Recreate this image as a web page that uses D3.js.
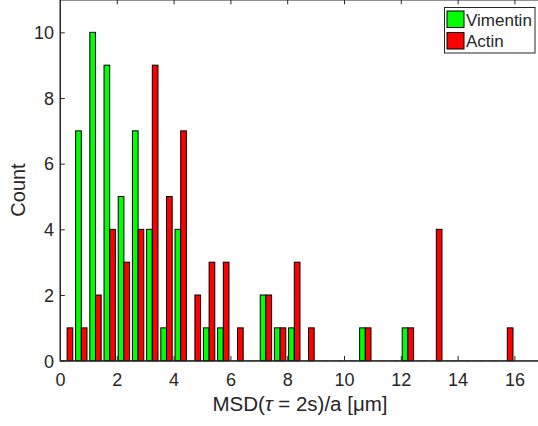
<!DOCTYPE html>
<html><head><meta charset="utf-8">
<script src="https://cdn.jsdelivr.net/npm/d3@7"></script>
<style>
html,body{margin:0;padding:0;background:#fff;}
svg{display:block;}
text{font-family:"Liberation Sans",Arial,Helvetica,sans-serif;fill:#262626;}
</style></head>
<body>
<script>
const binCenters = [0.25,0.75,1.25,1.75,2.25,2.75,3.25,3.75,4.25,4.75,5.25,5.75,6.25,6.75,7.25,7.75,8.25,8.75,9.25,9.75,10.25,10.75,11.25,11.75,12.25,12.75,13.25,13.75,14.25,14.75,15.25,15.75];
const vimentin = [0,7,10,9,5,7,4,1,4,0,1,1,0,0,2,1,1,0,0,0,0,1,0,0,1,0,0,0,0,0,0,0];
const actin    = [1,1,2,4,3,4,9,5,7,2,3,3,1,0,2,1,3,1,0,0,0,1,0,0,1,0,4,0,0,0,0,1];
const seriesNames = ["Vimentin","Actin"];
const seriesColors = ["#00ff00","#ff0000"];
const xTicks = [0,2,4,6,8,10,12,14,16];
const yTicks = [0,2,4,6,8,10];

const W=538,H=426;
const L=60, R=542.8, T=-0.5, B=360.7;
const x=d3.scaleLinear().domain([0,17]).range([L,R]);
const y=d3.scaleLinear().domain([0,11]).range([B,T]);
const axisColor="#262626";

const svg=d3.select("body").append("svg").attr("width",W).attr("height",H);
const barW=0.2;
const series=[vimentin,actin];
series.forEach((vals,si)=>{
  const off = si===0 ? -barW : 0;
  const g=svg.append("g");
  binCenters.forEach((c,i)=>{
    const v=vals[i];
    const x0=x(c+off), x1=x(c+off+barW);
    if(v>0){
      g.append("rect").attr("x",x0).attr("y",y(v)).attr("width",x1-x0).attr("height",y(0)-y(v))
        .attr("fill",seriesColors[si]).attr("stroke","#000").attr("stroke-width",1);
    } else {
      g.append("line").attr("x1",x0).attr("x2",x1).attr("y1",y(0)).attr("y2",y(0))
        .attr("stroke",seriesColors[si]).attr("stroke-width",1).attr("opacity",0.5);
    }
  });
});

// box
svg.append("rect").attr("x",L).attr("y",T).attr("width",R-L).attr("height",B-T)
  .attr("fill","none").attr("stroke",axisColor).attr("stroke-width",1);

const tl=4.8;
const fs=18;
const xb=svg.append("g").attr("transform",`translate(0,${B})`)
  .call(d3.axisBottom(x).tickValues(xTicks).tickSizeInner(-tl).tickSizeOuter(0).tickPadding(10).tickFormat(d3.format("d")));
const xt=svg.append("g").attr("transform",`translate(0,${T})`)
  .call(d3.axisTop(x).tickValues(xTicks).tickSizeInner(-tl).tickSizeOuter(0).tickFormat(""));
const yl=svg.append("g").attr("transform",`translate(${L},0)`)
  .call(d3.axisLeft(y).tickValues(yTicks).tickSizeInner(-tl).tickSizeOuter(0).tickPadding(6).tickFormat(d3.format("d")));
const yr=svg.append("g").attr("transform",`translate(${R},0)`)
  .call(d3.axisRight(y).tickValues(yTicks).tickSizeInner(-tl).tickSizeOuter(0).tickFormat(""));
[xb,xt,yl,yr].forEach(g=>{
  g.select(".domain").attr("stroke",axisColor);
  g.selectAll(".tick line").attr("stroke",axisColor);
  g.selectAll(".tick text").attr("fill",axisColor).style("font-size",fs+"px").style("font-family","'Liberation Sans',Arial,sans-serif");
});
yl.selectAll(".tick text").attr("dy","0.35em");
xb.selectAll(".tick text").attr("dy","0").attr("y",25.5);

// labels
const xlab=svg.append("text").attr("x",300).attr("y",410.5).attr("text-anchor","middle").style("font-size","20.5px");
xlab.append("tspan").text("MSD(");
xlab.append("tspan").text("τ").style("font-style","italic");
xlab.append("tspan").text(" = 2s)/a [μm]");
svg.append("text").attr("transform","translate(25,190) rotate(-90)").attr("text-anchor","middle").style("font-size","20px").text("Count");

// legend
const lg=svg.append("g");
lg.append("rect").attr("x",444.5).attr("y",7.5).attr("width",90.5).attr("height",45.5).attr("fill","#fff").attr("stroke",axisColor).attr("stroke-width",1);
seriesNames.forEach((n,i)=>{
  const yy=11+i*21.5;
  lg.append("rect").attr("x",447).attr("y",yy).attr("width",17).attr("height",16.5).attr("fill",seriesColors[i]).attr("stroke","#000").attr("stroke-width",1);
  lg.append("text").attr("x",466).attr("y",yy+14.5).style("font-size","17px").text(n);
});
</script>
</body></html>
